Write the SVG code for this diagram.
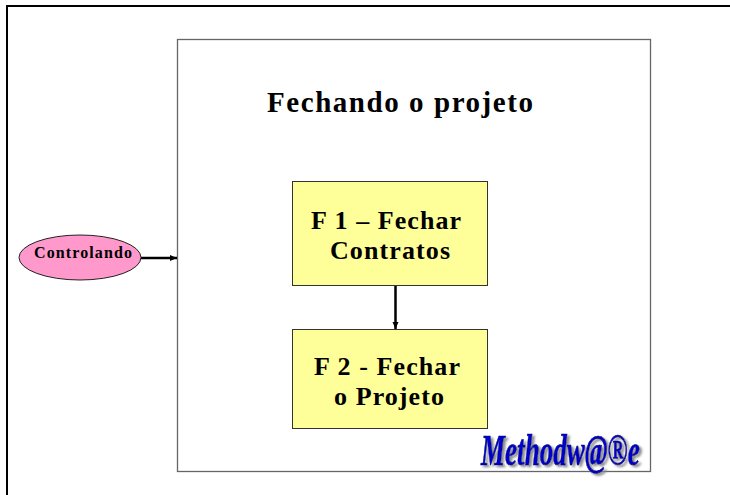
<svg xmlns="http://www.w3.org/2000/svg" width="730" height="495" viewBox="0 0 730 495">
<defs>
<marker id="arr" markerUnits="userSpaceOnUse" markerWidth="8" markerHeight="8" refX="7" refY="4" orient="auto"><path d="M0 1 L7 4 L0 7 Z" fill="#000"/></marker>
<filter id="shadow" filterUnits="userSpaceOnUse" x="460" y="415" width="200" height="75"><feDropShadow dx="2.500" dy="2" stdDeviation="0.800" flood-color="#888"/></filter>
</defs>
<style>
text{font-family:"Liberation Serif","Times New Roman",serif;font-weight:700;fill:#000}
.box{fill:#ffff99;stroke:#333;stroke-width:1}
.t{font-size:26px}
.logo{font-size:44px;font-style:italic;fill:#0000cc;stroke:#00007a;stroke-width:.7}
</style>
<rect width="730" height="495" fill="#fff"/>
<path d="M7 495V6H730" fill="none" stroke="#000" stroke-width="2"/>
<g id="frame"><rect x="177.500" y="39.500" width="473" height="432" fill="#fff" stroke="#666" stroke-width="1.300"/>
<text x="267" y="112" font-size="29" textLength="266">Fechando o projeto</text></g>
<g id="connectors" fill="none" stroke="#000">
<path d="M140 258H177" stroke-width="2.500" marker-end="url(#arr)"/>
<path d="M395.500 285V329" stroke-width="2.500" marker-end="url(#arr)"/>
</g>
<g id="controlando"><ellipse cx="80" cy="257.500" rx="61" ry="22.500" fill="#ff99cc" stroke="#222" stroke-width="1"/>
<text x="34" y="258" font-size="16" textLength="98">Controlando</text></g>
<g id="f1"><rect class="box" x="292.500" y="181.500" width="195" height="104"/>
<text class="t" x="311" y="229" textLength="150">F 1 – Fechar</text><text class="t" x="330" y="259" textLength="120">Contratos</text></g>
<g id="f2"><rect class="box" x="292.500" y="329.500" width="195" height="99"/>
<text class="t" x="314" y="375" textLength="146">F 2 - Fechar</text><text class="t" x="334" y="405" textLength="110">o Projeto</text></g>
<g id="logo" filter="url(#shadow)">
<text class="logo" transform="translate(481 465) scale(.616 1)">Methodw@®e</text></g>
</svg>
